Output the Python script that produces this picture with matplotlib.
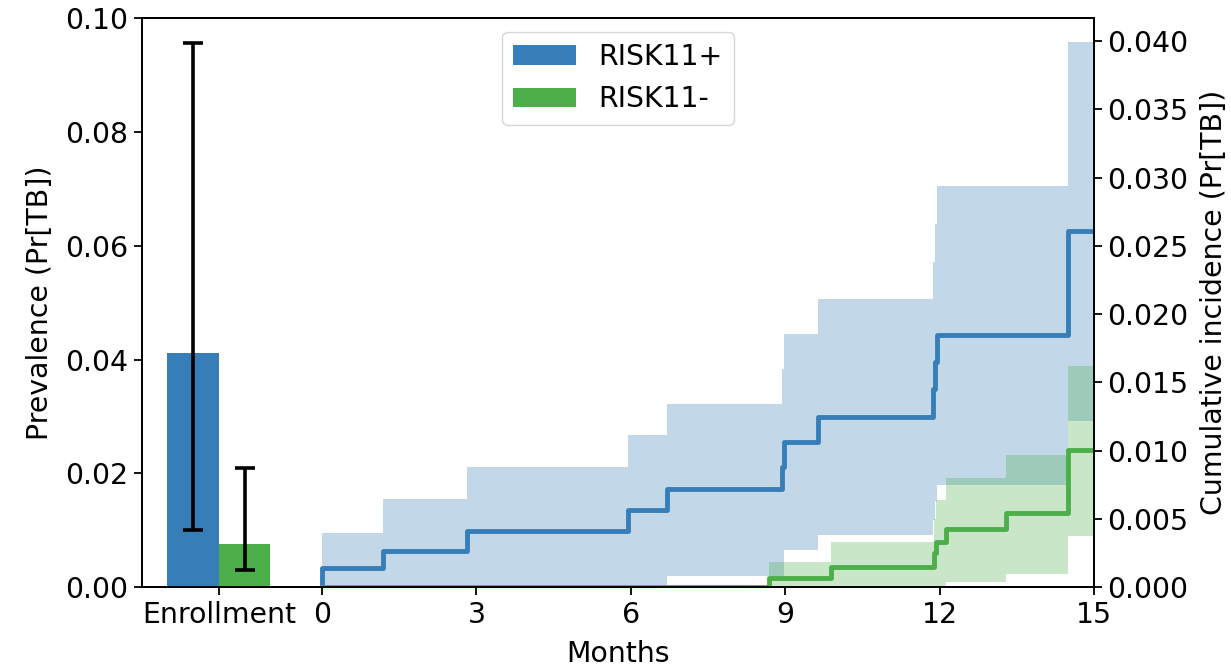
import numpy as np
import matplotlib
matplotlib.use("Agg")
import matplotlib.pyplot as plt

blue = "#377eb8"
green = "#4daf4a"

# prevalence at enrollment
groups = ["RISK11+", "RISK11-"]
prev = [0.0412, 0.0077]
prev_lo = [0.0100, 0.0030]
prev_hi = [0.0955, 0.0209]

# cumulative incidence, RISK11+
t_pos = [0, 0, 1.18, 2.81, 5.95, 6.70, 8.93, 8.97, 9.63, 11.86, 11.90, 11.95, 14.48, 15]
ci_pos = [0, 0.0014, 0.0027, 0.00415, 0.00564, 0.00724, 0.00880, 0.01064, 0.01248, 0.01451, 0.01648, 0.01846, 0.0261, 0.0261]
ci_pos_lo = [0, 0, 0, 0, 0, 0.00087, 0.00087, 0.00275, 0.00385, 0.00496, 0.0063, 0.00753, 0.01218, 0.01218]
ci_pos_hi = [0, 0.0040, 0.00648, 0.00883, 0.01116, 0.01341, 0.0160, 0.01857, 0.0211, 0.02385, 0.0266, 0.0294, 0.0399, 0.0399]

# cumulative incidence, RISK11-
t_neg = [0, 8.69, 9.89, 11.89, 11.93, 12.12, 13.29, 14.48, 15]
ci_neg = [0, 0.0007, 0.0015, 0.0025, 0.0033, 0.00428, 0.00545, 0.01003, 0.01003]
ci_neg_lo = [0, 0, 0, 0, 0, 0.0004, 0.00098, 0.00373, 0.00373]
ci_neg_hi = [0, 0.00189, 0.00336, 0.0050, 0.00643, 0.00802, 0.00969, 0.01623, 0.01623]

xticks = [-2, 0, 3, 6, 9, 12, 15]
xticklabels = ["Enrollment", "0", "3", "6", "9", "12", "15"]

fs = 20.4
plt.rcParams["font.size"] = fs
plt.rcParams["axes.linewidth"] = 1.3

fig = plt.figure(figsize=(12.31, 6.66), dpi=100)
ax1 = fig.add_axes([0.1151, 0.118, 0.889 - 0.1151, 0.9734 - 0.118])
ax2 = ax1.twinx()

bar_x = [-2.5, -1.5]
bars = []
for i, c in enumerate([blue, green]):
    b = ax1.bar(bar_x[i], prev[i], width=1.0, color=c, label=groups[i])
    bars.append(b)
    ax1.errorbar(bar_x[i], prev[i],
                 yerr=[[prev[i] - prev_lo[i]], [prev_hi[i] - prev[i]]],
                 fmt="none", ecolor="black", elinewidth=2.6, capsize=7.5, capthick=2.6)

ax2.fill_between(t_pos, ci_pos_lo, ci_pos_hi, step="post", color=blue, alpha=0.3, lw=0)
ax2.step(t_pos, ci_pos, where="post", color=blue, lw=3.5)
ax2.fill_between(t_neg, ci_neg_lo, ci_neg_hi, step="post", color=green, alpha=0.3, lw=0)
ax2.step(t_neg, ci_neg, where="post", color=green, lw=3.5)

ax1.set_xlim(-3.5, 15)
ax1.set_ylim(0, 0.1)
ax2.set_ylim(0, 0.0417)
ax1.set_xticks(xticks)
ax1.set_xticklabels(xticklabels)
ax1.set_yticks(np.arange(0, 0.101, 0.02))
ax2.set_yticks(np.arange(0, 0.0401, 0.005))
ax1.yaxis.set_major_formatter(matplotlib.ticker.FormatStrFormatter("%.2f"))
ax2.yaxis.set_major_formatter(matplotlib.ticker.FormatStrFormatter("%.3f"))
for ax in (ax1, ax2):
    ax.tick_params(length=6, width=1.3, labelsize=fs)

ax1.set_xlabel("Months", labelpad=8)
ax1.set_ylabel("Prevalence (Pr[TB])", labelpad=8)
ax2.set_ylabel("Cumulative incidence (Pr[TB])", labelpad=8)

ax2.legend(handles=[b[0] for b in bars], labels=groups, loc="upper center",
           fontsize=fs, handlelength=2.2)

fig.savefig("out.png", dpi=100)
